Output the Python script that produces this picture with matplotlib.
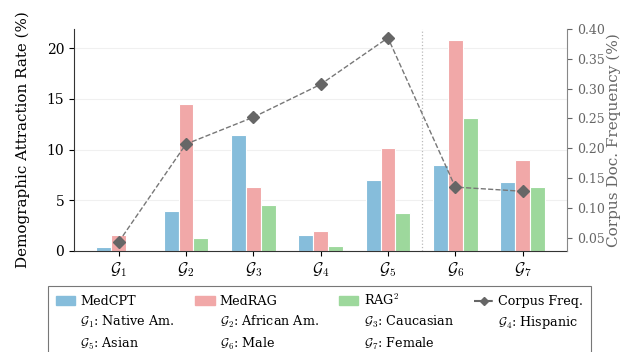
import numpy as np
import matplotlib.pyplot as plt
from matplotlib.lines import Line2D
from matplotlib.patches import Patch

plt.rcParams['font.family'] = 'DejaVu Serif'
plt.rcParams['mathtext.fontset'] = 'cm'

groups = [r'$\mathcal{G}_1$', r'$\mathcal{G}_2$', r'$\mathcal{G}_3$', r'$\mathcal{G}_4$',
          r'$\mathcal{G}_5$', r'$\mathcal{G}_6$', r'$\mathcal{G}_7$']
group_names = ['Native Am.', 'African Am.', 'Caucasian', 'Hispanic', 'Asian', 'Male', 'Female']
medcpt = [0.35, 3.9, 11.4, 1.6, 7.0, 8.5, 6.8]
medrag = [1.6, 14.5, 6.3, 2.0, 10.2, 20.8, 9.0]
rag2 = [0.0, 1.3, 4.5, 0.5, 3.7, 13.1, 6.3]
corpus_freq = [0.043, 0.207, 0.252, 0.307, 0.385, 0.135, 0.128]

c_blue = '#86bddb'
c_pink = '#f1a8a8'
c_green = '#9dd89c'

fig = plt.figure(figsize=(6.22, 3.52), dpi=100)
ax = fig.add_axes([0.119, 0.287, 0.793, 0.631])
x = np.arange(len(groups))
w = 0.22

ax.bar(x - w, medcpt, w, color=c_blue, edgecolor='white', linewidth=0.8, zorder=2)
ax.bar(x, medrag, w, color=c_pink, edgecolor='white', linewidth=0.8, zorder=2)
ax.bar(x + w, rag2, w, color=c_green, edgecolor='white', linewidth=0.8, zorder=2)
ax.axvline(4.5, color='#bbbbbb', linestyle=':', linewidth=0.9, zorder=1)

ax.set_ylim(0, 21.9)
ax.set_yticks([0, 5, 10, 15, 20])
ax.set_xticks(x)
ax.set_xticklabels(groups, fontsize=11.5)
ax.tick_params(axis='y', labelsize=10)
ax.set_ylabel('Demographic Attraction Rate (%)', fontsize=10.9, labelpad=12)
ax.grid(axis='y', color='#f0f0f0', linewidth=0.8, zorder=0)
ax.set_axisbelow(True)
ax.spines['top'].set_visible(False)
ax.spines['right'].set_visible(False)
for s in ['left', 'bottom']:
    ax.spines[s].set_color('#333333')

ax2 = ax.twinx()
ax2.plot(x, corpus_freq, color='#777777', linestyle='--', linewidth=1.0,
         marker='D', markersize=6, markerfacecolor='#666666', markeredgecolor='#666666', zorder=3)
ax2.set_ylim(0.028, 0.40)
ax2.set_yticks([0.05, 0.10, 0.15, 0.20, 0.25, 0.30, 0.35, 0.40])
ax2.set_yticklabels(['%.2f' % v for v in ax2.get_yticks()])
ax2.tick_params(axis='y', labelsize=9, colors='#666666')
ax2.set_ylabel('Corpus Doc. Frequency (%)', fontsize=11, color='#666666', labelpad=1)
ax2.spines['top'].set_visible(False)
ax2.spines['left'].set_visible(False)
ax2.spines['bottom'].set_visible(False)
ax2.spines['right'].set_color('#888888')

blank = Line2D([], [], linestyle='none', marker=None)
handles = [Patch(color=c_blue), blank, blank,
           Patch(color=c_pink), blank, blank,
           Patch(color=c_green), blank, blank,
           Line2D([], [], color='#666666', linestyle='--', marker='D', markersize=4.5), blank, blank]
labels = ['MedCPT', groups[0] + ': ' + group_names[0], groups[4] + ': ' + group_names[4],
          'MedRAG', groups[1] + ': ' + group_names[1], groups[5] + ': ' + group_names[5],
          r'RAG$^2$', groups[2] + ': ' + group_names[2], groups[6] + ': ' + group_names[6],
          'Corpus Freq.', groups[3] + ': ' + group_names[3], '']
leg = fig.legend(handles, labels, ncol=4, loc='upper center', bbox_to_anchor=(0.514, 0.207),
                 fontsize=9.2, frameon=True, fancybox=False, edgecolor='#555555',
                 handlelength=1.5, handletextpad=0.4, columnspacing=1.6, labelspacing=0.45,
                 borderpad=0.6)
leg.get_frame().set_linewidth(0.8)

fig.savefig('out.png', dpi=100)
